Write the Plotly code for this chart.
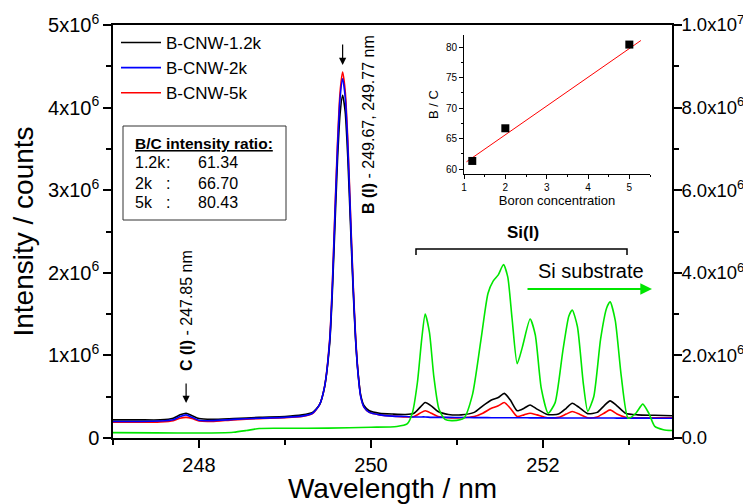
import plotly.graph_objects as go

# ---------------- data ----------------
wavelength = [247.00, 247.30, 247.55, 247.70, 247.78, 247.85, 247.92, 248.00, 248.15, 248.40,
              248.70, 249.00, 249.20, 249.32, 249.40, 249.46, 249.52, 249.55, 249.58, 249.61,
              249.64, 249.67, 249.70, 249.73, 249.76, 249.79, 249.82, 249.85, 249.88, 249.92,
              249.98, 250.10, 250.25, 250.40, 250.50, 250.57, 250.63, 250.70, 250.78, 250.90,
              251.05, 251.20, 251.30, 251.40, 251.48, 251.55, 251.62, 251.70, 251.78, 251.85,
              251.93, 252.05, 252.18, 252.27, 252.34, 252.42, 252.52, 252.63, 252.71, 252.78,
              252.86, 252.96, 253.10, 253.30, 253.50]

# intensities in units of 1e6 counts
cnw_1_2k = [0.22, 0.22, 0.22, 0.24, 0.28, 0.30, 0.27, 0.235, 0.225, 0.235,
            0.25, 0.26, 0.28, 0.31, 0.40, 0.62, 1.15, 1.75, 2.55, 3.35,
            3.92, 4.15, 3.95, 3.40, 2.62, 1.85, 1.20, 0.78, 0.52, 0.39,
            0.33, 0.30, 0.29, 0.285, 0.30, 0.37, 0.43, 0.39, 0.32, 0.285,
            0.28, 0.31, 0.39, 0.46, 0.49, 0.54, 0.46, 0.33, 0.36, 0.40,
            0.35, 0.285, 0.29, 0.36, 0.42, 0.37, 0.295, 0.31, 0.39, 0.45,
            0.39, 0.30, 0.28, 0.275, 0.27]

cnw_2k = [0.20, 0.20, 0.205, 0.22, 0.26, 0.28, 0.25, 0.215, 0.21, 0.225,
          0.24, 0.25, 0.265, 0.30, 0.40, 0.62, 1.18, 1.82, 2.68, 3.50,
          4.11, 4.35, 4.13, 3.55, 2.72, 1.90, 1.22, 0.77, 0.50, 0.37,
          0.31, 0.28, 0.265, 0.26, 0.255, 0.255, 0.255, 0.25, 0.25, 0.25,
          0.248, 0.247, 0.247, 0.246, 0.246, 0.245, 0.245, 0.245, 0.245, 0.244,
          0.244, 0.244, 0.243, 0.243, 0.243, 0.243, 0.242, 0.242, 0.242, 0.242,
          0.241, 0.241, 0.241, 0.240, 0.240]

cnw_5k = [0.19, 0.19, 0.195, 0.21, 0.24, 0.25, 0.235, 0.205, 0.20, 0.22,
          0.235, 0.245, 0.26, 0.295, 0.40, 0.62, 1.20, 1.85, 2.73, 3.56,
          4.18, 4.43, 4.20, 3.61, 2.77, 1.93, 1.25, 0.79, 0.51, 0.37,
          0.31, 0.28, 0.265, 0.255, 0.26, 0.30, 0.33, 0.30, 0.26, 0.245,
          0.245, 0.26, 0.30, 0.36, 0.39, 0.43, 0.36, 0.26, 0.28, 0.30,
          0.28, 0.245, 0.25, 0.29, 0.32, 0.29, 0.245, 0.255, 0.30, 0.34,
          0.29, 0.25, 0.245, 0.245, 0.245]

si_wavelength = [247.00, 247.50, 248.00, 248.40, 248.55, 248.70, 249.00, 249.50, 250.00, 250.30,
                 250.42, 250.48, 250.54, 250.59, 250.63, 250.68, 250.73, 250.79, 250.86, 250.95,
                 251.08, 251.18, 251.28, 251.36, 251.42, 251.48, 251.54, 251.59, 251.64, 251.70,
                 251.76, 251.85, 251.91, 251.98, 252.06, 252.14, 252.23, 252.30, 252.34, 252.40,
                 252.47, 252.52, 252.59, 252.67, 252.74, 252.78, 252.84, 252.91, 252.99, 253.08,
                 253.16, 253.23, 253.30, 253.40, 253.50]
# Si substrate, right axis, units of 1e6 counts
si_substrate = [0.13, 0.125, 0.12, 0.14, 0.18, 0.23, 0.235, 0.24, 0.26, 0.28,
                0.34, 0.60, 1.35, 2.40, 3.00, 2.55, 1.50, 0.70, 0.45, 0.42,
                0.48, 1.05, 2.40, 3.50, 3.80, 3.95, 4.20, 3.90, 2.90, 1.80,
                2.20, 2.88, 2.50, 1.20, 0.60, 0.85, 2.10, 2.95, 3.10, 2.70,
                1.30, 0.65, 1.00, 2.40, 3.15, 3.30, 2.85, 1.50, 0.48, 0.60,
                0.82, 0.60, 0.28, 0.20, 0.18]

series_names = ["B-CNW-1.2k", "B-CNW-2k", "B-CNW-5k"]
sample_labels = ["1.2k", "2k", "5k"]
boron_conc = [1.2, 2.0, 5.0]
bc_ratio = [61.34, 66.70, 80.43]
fit_x = [1.06, 5.28]
fit_y = [61.2, 81.1]

left_tick_vals = [0, 1e6, 2e6, 3e6, 4e6, 5e6]
left_tick_text = ["0", "1x10<sup>6</sup>", "2x10<sup>6</sup>", "3x10<sup>6</sup>",
                  "4x10<sup>6</sup>", "5x10<sup>6</sup>"]
right_tick_vals = [0, 2e6, 4e6, 6e6, 8e6, 1e7]
right_tick_text = ["0.0", "2.0x10<sup>6</sup>", "4.0x10<sup>6</sup>", "6.0x10<sup>6</sup>",
                   "8.0x10<sup>6</sup>", "1.0x10<sup>7</sup>"]
x_tick_vals = [248, 250, 252]

C_line = 247.85
B_line = 249.67

# ---------------- figure ----------------
FONT = "Liberation Sans, Arial, sans-serif"
OFF = 8                        # page body margin of the browser
PAGE_W, PAGE_H = 751, 504
PL, PR, PT, PB = 113, 672, 25, 438   # plot area in page pixels
W, H = PAGE_W - OFF, PAGE_H - OFF
L, T = PL - OFF, PT - OFF
R = W - (PR - OFF)
B = H - (PB - OFF)
PW, PH = PR - PL, PB - PT


def px(x):
    return (x - PL) / PW


def py(y):
    return (PB - y) / PH


def yd(y):
    # page pixel -> left-axis data
    return (PB - y) / PH * 5e6


fig = go.Figure()

GREEN = "#00e600"
fig.add_trace(go.Scatter(x=si_wavelength, y=[v * 1e6 for v in si_substrate], yaxis="y2",
                         mode="lines", line=dict(color=GREEN, width=1.6, shape="spline", smoothing=0.6),
                         showlegend=False, name="Si substrate"))

colors = ["#000000", "#0000ff", "#ff0000"]
values = [cnw_1_2k, cnw_2k, cnw_5k]
order = [2, 0, 1]  # draw red, black, blue
for i in order:
    fig.add_trace(go.Scatter(x=wavelength, y=[v * 1e6 for v in values[i]], mode="lines",
                             name=series_names[i], legendrank=i + 1,
                             line=dict(color=colors[i], width=1.6, shape="spline", smoothing=0.6)))

# inset
fig.add_trace(go.Scatter(x=fit_x, y=fit_y, xaxis="x3", yaxis="y3", mode="lines",
                         line=dict(color="#ff0000", width=1), showlegend=False))
fig.add_trace(go.Scatter(x=boron_conc, y=bc_ratio, xaxis="x3", yaxis="y3", mode="markers",
                         marker=dict(symbol="square", size=8, color="black"), showlegend=False))

axis_common = dict(showgrid=False, zeroline=False, showline=True, linecolor="black",
                   linewidth=1.5, ticks="outside", ticklen=8, tickwidth=1.5, tickcolor="black")

fig.update_layout(
    width=W, height=H,
    margin=dict(l=L, r=R, t=T, b=B, autoexpand=False),
    paper_bgcolor="white", plot_bgcolor="white",
    font=dict(family=FONT, color="black"),
    xaxis=dict(**axis_common, range=[247, 253.5], tickmode="array", tickvals=x_tick_vals,
               mirror=True, tickfont=dict(family=FONT, size=20, color="black"),
               minor=dict(ticks="outside", ticklen=5, tickwidth=1.5, tickcolor="black",
                          tick0=247, dtick=1),
               title=dict(text="Wavelength / nm", font=dict(family=FONT, size=28), standoff=14)),
    yaxis=dict(**axis_common, range=[0, 5e6], tickmode="array", tickvals=left_tick_vals,
               ticktext=left_tick_text, tickfont=dict(family=FONT, size=20, color="black"),
               minor=dict(tickmode="linear", ticks="outside", ticklen=5, tickwidth=1.5,
                          tickcolor="black", tick0=0, dtick=5e5),
               title=dict(text="Intensity / counts", font=dict(family=FONT, size=28), standoff=8)),
    yaxis2=dict(**axis_common, overlaying="y", side="right", range=[0, 1e7], tickmode="array",
                tickvals=right_tick_vals, ticktext=right_tick_text, ticklabelstandoff=-4,
                tickfont=dict(family=FONT, size=18.5, color="black"),
                minor=dict(tickmode="linear", ticks="outside", ticklen=5, tickwidth=1.5,
                           tickcolor="black", tick0=0, dtick=1e6)),
    xaxis3=dict(domain=[px(464), px(650)], anchor="y3", range=[1, 5.5], showgrid=False,
                zeroline=False, showline=True, linecolor="black", linewidth=1,
                ticks="outside", ticklen=4, tickwidth=1, tickcolor="black", dtick=1, tick0=1,
                tickfont=dict(family=FONT, size=10),
                minor=dict(ticks="outside", ticklen=2, tickcolor="black", dtick=0.5),
                title=dict(text="Boron concentration", font=dict(family=FONT, size=13), standoff=3)),
    yaxis3=dict(domain=[py(174), py(35)], anchor="x3", range=[59.2, 82], showgrid=False,
                zeroline=False, showline=True, linecolor="black", linewidth=1,
                ticks="outside", ticklen=4, tickwidth=1, tickcolor="black", dtick=5, tick0=60,
                tickfont=dict(family=FONT, size=10),
                minor=dict(ticks="outside", ticklen=2, tickcolor="black", dtick=2.5),
                title=dict(text="B / C", font=dict(family=FONT, size=13), standoff=4)),
    legend=dict(x=px(116), y=1.0, xanchor="left", yanchor="top", bgcolor="rgba(0,0,0,0)",
                font=dict(family=FONT, size=17), itemwidth=40, tracegroupgap=0),
)

annotations = []
shapes = []

# ratio box
shapes.append(dict(type="rect", xref="paper", yref="paper", x0=px(123), x1=px(286),
                   y0=py(220), y1=py(126), line=dict(color="#333333", width=1)))
annotations.append(dict(xref="paper", yref="paper", x=px(133), y=py(143), xanchor="left",
                        yanchor="middle", showarrow=False,
                        text="<b><u>B/C intensity ratio:</u></b>",
                        font=dict(family=FONT, size=15.5)))
row_y = [162, 183, 203]
for lab, val, ry in zip(sample_labels, bc_ratio, row_y):
    annotations.append(dict(xref="paper", yref="paper", x=px(133), y=py(ry), xanchor="left",
                            yanchor="middle", showarrow=False, text=lab,
                            font=dict(family=FONT, size=16)))
    annotations.append(dict(xref="paper", yref="paper", x=px(164), y=py(ry), xanchor="left",
                            yanchor="middle", showarrow=False, text=":",
                            font=dict(family=FONT, size=16)))
    annotations.append(dict(xref="paper", yref="paper", x=px(196), y=py(ry), xanchor="left",
                            yanchor="middle", showarrow=False, text=f"{val:.2f}",
                            font=dict(family=FONT, size=16)))

# C (I) arrow and label
annotations.append(dict(x=C_line, y=yd(403), xref="x", yref="y", ax=0, ay=-21, text="",
                        showarrow=True, arrowhead=2, arrowsize=1.2, arrowwidth=1.2,
                        arrowcolor="black"))
annotations.append(dict(x=C_line, y=yd(311), xref="x", yref="y", textangle=-90,
                        xanchor="center", yanchor="middle",
                        showarrow=False, text=f"<b>C (I)</b> - {C_line:.2f} nm",
                        font=dict(family=FONT, size=16)))
# B (I) arrow and label
annotations.append(dict(x=B_line, y=yd(65), xref="x", yref="y", ax=0, ay=-22, text="",
                        showarrow=True, arrowhead=2, arrowsize=1.2, arrowwidth=1.2,
                        arrowcolor="black"))
annotations.append(dict(xref="paper", yref="paper", x=px(369), y=py(125), textangle=-90,
                        xanchor="center", yanchor="middle",
                        showarrow=False, text="<b>B (I)</b> - 249.67, 249.77 nm",
                        font=dict(family=FONT, size=16)))
# Si(I)
annotations.append(dict(xref="paper", yref="paper", x=px(523), y=py(232), showarrow=False,
                        xanchor="center", yanchor="middle",
                        text="<b>Si(I)</b>", font=dict(family=FONT, size=17)))
shapes.append(dict(type="path", xref="paper", yref="paper",
                   path=f"M {px(416)},{py(255)} L {px(416)},{py(249)} L {px(627)},{py(249)} L {px(627)},{py(255)}",
                   line=dict(color="black", width=1.5)))
# Si substrate
annotations.append(dict(xref="paper", yref="paper", x=px(591), y=py(271), showarrow=False,
                        xanchor="center", yanchor="middle",
                        text="Si substrate", font=dict(family=FONT, size=20)))
annotations.append(dict(xref="paper", yref="paper", axref="pixel", ayref="pixel",
                        x=px(652), y=py(289), ax=-126, ay=0, text="", showarrow=True,
                        arrowhead=2, arrowsize=1.3, arrowwidth=1.8, arrowcolor=GREEN))

fig.update_layout(annotations=annotations, shapes=shapes)

fig.write_html("out.html")
